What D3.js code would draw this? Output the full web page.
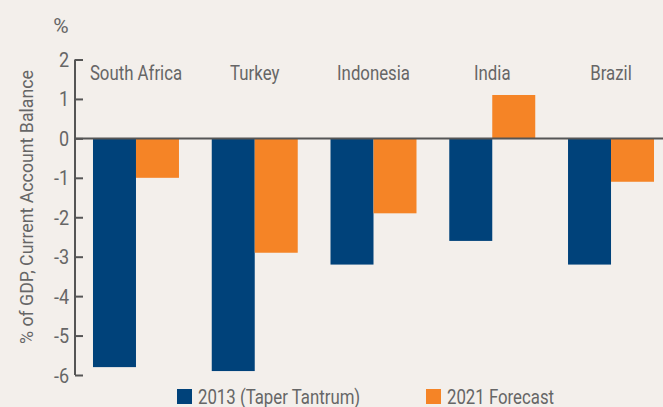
<!DOCTYPE html>
<html>
<head>
<meta charset="utf-8">
<script src="https://cdn.jsdelivr.net/npm/d3@7"></script>
<style>
  body { margin: 0; background: #f3efeb; }
  svg { display: block; }
  text { font-family: Roboto, "Liberation Sans", sans-serif; fill: #666; }
</style>
</head>
<body>
<svg></svg>
<script>
// Data
const countries = ['South Africa', 'Turkey', 'Indonesia', 'India', 'Brazil']
const taper2013 = [-5.8, -5.9, -3.2, -2.6, -3.2]
const forecast2021 = [-1.0, -2.9, -1.9, 1.1, -1.1]
const seriesNames = ['2013 (Taper Tantrum)', '2021 Forecast']
const yTicks = [-6, -5, -4, -3, -2, -1, 0, 1, 2]

const width = 663
const height = 407
const colors = ['#00427a', '#f58426']
const axisColor = '#555'

const svg = d3.select('svg')
    .attr('width', width)
    .attr('height', height)

svg.append('rect')
    .attr('width', width)
    .attr('height', height)
    .attr('fill', '#f3efeb')

// place a text at (x, y), narrowed horizontally (the original font is a condensed face)
let addText = (str, x, y, size, anchor, squeeze, rotate) => {
    return svg.append('text')
        .attr('transform', 'translate(' + x + ',' + y + ')' + (rotate ? ' rotate(' + rotate + ')' : '') + ' scale(' + squeeze + ',1)')
        .attr('text-anchor', anchor)
        .style('font-size', size + 'px')
        .text(str)
}

// Scales
let yScale = d3.scaleLinear()
    .domain([-6, 2])
    .range([375, 59.5])

let xScale = d3.scaleBand()
    .domain(countries)
    .range([76.6, 670.4])
    .paddingInner(0.276)
    .paddingOuter(0.138)

let subScale = d3.scaleBand()
    .domain([0, 1])
    .range([0, xScale.bandwidth()])

// Bars
let rows = countries.map((c, i) => ({ country: c, values: [taper2013[i], forecast2021[i]] }))

let groups = svg.selectAll('g.group')
    .data(rows)
    .enter()
    .append('g')
    .attr('class', 'group')
    .attr('transform', d => 'translate(' + xScale(d.country) + ',0)')

groups.selectAll('rect')
    .data(d => d.values)
    .enter()
    .append('rect')
    .attr('x', (d, i) => subScale(i))
    .attr('width', subScale.bandwidth())
    .attr('y', d => yScale(Math.max(0, d)))
    .attr('height', d => Math.abs(yScale(d) - yScale(0)))
    .attr('fill', (d, i) => colors[i])

// Zero line
svg.append('line')
    .attr('x1', 75)
    .attr('x2', width)
    .attr('y1', yScale(0))
    .attr('y2', yScale(0))
    .attr('stroke', axisColor)
    .attr('stroke-width', 2)

// Y axis
let yAxis = d3.axisRight(yScale)
    .tickValues(yTicks)
    .tickSize(8)
    .tickFormat(d => d)
let yG = svg.append('g')
    .attr('transform', 'translate(75,0)')
    .call(yAxis)
yG.select('.domain').attr('stroke', axisColor).attr('stroke-width', 2)
    .attr('d', 'M0,' + yScale(2) + 'V' + yScale(-6))
yG.selectAll('.tick line').attr('stroke', axisColor).attr('stroke-width', 2)
yG.selectAll('.tick text')
    .attr('x', 0)
    .attr('dy', null)
    .attr('transform', 'translate(-6,7) scale(0.9,1)')
    .attr('text-anchor', 'end')
    .style('font-size', '20px')
    .attr('fill', '#666')

// Unit label
addText('%', 61, 33, 21, 'middle', 1)

// Y title
addText('% of GDP, Current Account Balance', 33, 207, 18.5, 'middle', 0.96, -90)

// Category labels
countries.forEach(c => {
    addText(c, xScale(c) + xScale.bandwidth() / 2, 80, 21, 'middle', 0.8)
})

// Legend
let legendX = [177, 426]
seriesNames.forEach((name, i) => {
    svg.append('rect')
        .attr('x', legendX[i])
        .attr('y', 389)
        .attr('width', 15)
        .attr('height', 15)
        .attr('fill', colors[i])
    addText(name, legendX[i] + 21, 403.5, 21, 'start', 0.8)
})
</script>
</body>
</html>
